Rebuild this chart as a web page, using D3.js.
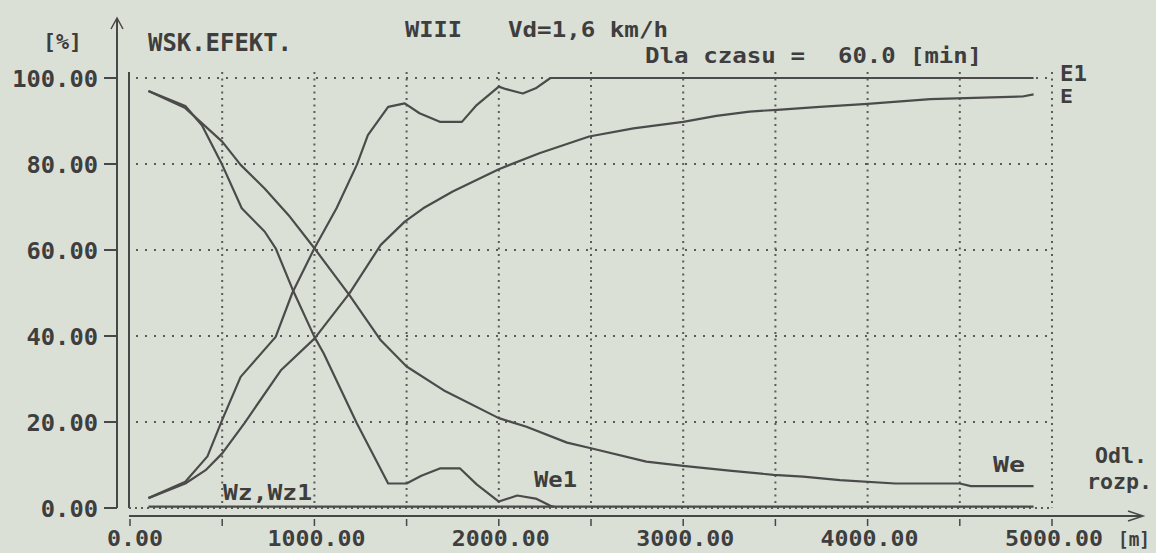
<!DOCTYPE html>
<html>
<head>
<meta charset="utf-8">
<script src="https://cdn.jsdelivr.net/npm/d3@7"></script>
<style>
html,body{margin:0;padding:0;background:#dbe0d6;}
svg{display:block;}
text{font-family:"DejaVu Sans Mono","Liberation Mono",monospace;font-weight:bold;fill:#3e3e3e;}
</style>
</head>
<body>
<svg id="chart" width="1156" height="553"></svg>
<script>
// ---- data ----
const xTicks = [0, 1000, 2000, 3000, 4000, 5000];
const xTickLabels = ["0.00", "1000.00", "2000.00", "3000.00", "4000.00", "5000.00"];
const xGrid = [500, 1000, 1500, 2000, 2500, 3000, 3500, 4000, 4500, 5000];
const yTicks = [0, 20, 40, 60, 80, 100];
const yTickLabels = ["0.00", "20.00", "40.00", "60.00", "80.00", "100.00"];

const distE1 = [100, 300, 420, 500, 600, 790, 880, 1000, 1120, 1230, 1290, 1400, 1490, 1570, 1680, 1800, 1880, 2000, 2040, 2130, 2200, 2280, 4900];
const valE1  = [2.3, 6.1, 12, 20.5, 30.5, 39.8, 50, 60.4, 69.7, 79.8, 86.7, 93.3, 94.1, 91.8, 89.8, 89.8, 93.7, 98, 97.4, 96.4, 97.6, 100, 100];

const distE = [100, 300, 410, 500, 620, 820, 1000, 1190, 1360, 1490, 1590, 1750, 2000, 2220, 2490, 2730, 3000, 3180, 3360, 3510, 3740, 4000, 4340, 4840, 4900];
const valE  = [2.3, 5.7, 8.8, 12.7, 19.7, 32.1, 39.4, 49.9, 61.2, 66.6, 69.7, 73.6, 78.8, 82.5, 86.4, 88.3, 89.8, 91.2, 92.2, 92.6, 93.3, 94, 95.1, 95.7, 96.2];

const distWe1 = [100, 300, 390, 500, 606, 730, 790, 880, 1000, 1050, 1230, 1400, 1500, 1580, 1680, 1790, 1880, 2000, 2100, 2200, 2280, 2300];
const valWe1  = [97, 93.5, 89, 79.8, 69.7, 64.3, 60.4, 51, 39.8, 36, 19.7, 5.7, 5.7, 7.5, 9.2, 9.2, 5.5, 1.5, 2.9, 2.2, 0.5, 0.3];

const distWe = [100, 300, 500, 600, 730, 860, 1000, 1190, 1360, 1500, 1700, 2000, 2150, 2370, 2500, 2800, 3000, 3250, 3490, 3650, 3850, 4150, 4500, 4560, 4900];
const valWe  = [97, 93, 85.2, 79.8, 74.3, 68.1, 60.4, 49.5, 39, 32.9, 27.4, 20.9, 18.9, 15.2, 13.9, 10.8, 9.8, 8.7, 7.7, 7.3, 6.5, 5.7, 5.7, 5.1, 5.1];

const distWz = [100, 4900];
const valWz  = [0.3, 0.3];

// ---- drawing ----
const svg = d3.select("#chart");
const x = d3.scaleLinear().domain([0, 5000]).range([130, 1052]);
const y = d3.scaleLinear().domain([0, 100]).range([508, 78]);
const ink = "#474747";

// grid
svg.append("g").selectAll("line").data(yTicks.filter(d => d > 0)).join("line")
  .attr("x1", x(0) + 6).attr("x2", x(5000)).attr("y1", d => y(d)).attr("y2", d => y(d))
  .attr("stroke", "#5a5a5a").attr("stroke-width", 2).attr("stroke-dasharray", "2,7");
svg.append("g").selectAll("line").data(xGrid).join("line")
  .attr("x1", d => x(d)).attr("x2", d => x(d)).attr("y1", y(100) - 6).attr("y2", y(0))
  .attr("stroke", "#5a5a5a").attr("stroke-width", 2).attr("stroke-dasharray", "2,4.5");

// frame left + bottom
svg.append("line").attr("x1", 129).attr("x2", 129).attr("y1", y(100) - 6).attr("y2", y(0))
  .attr("stroke", ink).attr("stroke-width", 2);
svg.append("line").attr("x1", 129).attr("x2", x(5000)).attr("y1", y(0)).attr("y2", y(0))
  .attr("stroke", "#5a5a5a").attr("stroke-width", 2).attr("stroke-dasharray", "2,4");

// y axis with arrow
svg.append("line").attr("x1", 117).attr("x2", 117).attr("y1", 19).attr("y2", y(0))
  .attr("stroke", ink).attr("stroke-width", 2);
svg.append("path").attr("d", "M111,29 L117,18 L123,29").attr("fill", "none")
  .attr("stroke", ink).attr("stroke-width", 1.5);
svg.append("g").selectAll("line").data(yTicks).join("line")
  .attr("x1", 104).attr("x2", 117).attr("y1", d => y(d)).attr("y2", d => y(d))
  .attr("stroke", ink).attr("stroke-width", 2);
svg.append("g").selectAll("text").data(yTicks).join("text")
  .attr("x", 98).attr("y", d => y(d) + 9).attr("text-anchor", "end")
  .attr("font-size", 23)
  .attr("textLength", (d, i) => yTickLabels[i].length * 14.3).attr("lengthAdjust", "spacingAndGlyphs")
  .text((d, i) => yTickLabels[i]);

// x axis with arrow
const axisY = 516;
svg.append("line").attr("x1", 129).attr("x2", 1142).attr("y1", axisY).attr("y2", axisY)
  .attr("stroke", ink).attr("stroke-width", 2);
svg.append("path").attr("d", `M1128,${axisY - 5} L1143,${axisY} L1128,${axisY + 5}`).attr("fill", "none")
  .attr("stroke", ink).attr("stroke-width", 1.5);
svg.append("g").selectAll("line").data([0].concat(xGrid)).join("line")
  .attr("x1", d => x(d)).attr("x2", d => x(d)).attr("y1", axisY + 3).attr("y2", axisY + 10)
  .attr("stroke", ink).attr("stroke-width", 1.5);
svg.append("g").selectAll("text").data(xTicks).join("text")
  .attr("x", d => x(d) + (d === 0 ? 5 : 2)).attr("y", 546).attr("text-anchor", "middle")
  .attr("font-size", 22)
  .attr("textLength", (d, i) => xTickLabels[i].length * 14).attr("lengthAdjust", "spacingAndGlyphs")
  .text((d, i) => xTickLabels[i]);

// series
const line = d3.line().x(d => x(d[0])).y(d => y(d[1]));
const series = [[distE1, valE1], [distE, valE], [distWe1, valWe1], [distWe, valWe], [distWz, valWz]];
series.forEach(([ds, vs]) => {
  svg.append("path").datum(ds.map((d, i) => [d, vs[i]]))
    .attr("d", line).attr("fill", "none").attr("stroke", "#4b4b4b")
    .attr("stroke-width", 2.2).attr("stroke-linejoin", "round");
});

// texts
function txt(s, xx, yy, fs, len) {
  const t = svg.append("text").attr("x", xx).attr("y", yy).attr("font-size", fs).text(s);
  if (len) t.attr("textLength", len).attr("lengthAdjust", "spacingAndGlyphs");
  return t;
}
txt("[%]", 43, 49, 22, 39);
txt("WSK.EFEKT.", 148, 51, 24, 144);
txt("WIII", 405, 37, 22, 57);
txt("Vd=1,6 km/h", 508, 37, 22, 160);
txt("Dla czasu =", 645, 63, 22, 160);
txt("60.0 [min]", 838, 63, 22, 144);
txt("E1", 1060, 81, 21, 27);
txt("E", 1060, 103, 19, 13);
txt("Odl.", 1095, 463, 22, 52);
txt("rozp.", 1087, 489, 22, 65);
txt("We", 993, 472, 22, 32);
txt("We1", 534, 487, 22, 43);
txt("Wz,Wz1", 223, 500, 22, 89);
txt("[m]", 1118, 546, 20, 32);
</script>
</body>
</html>
